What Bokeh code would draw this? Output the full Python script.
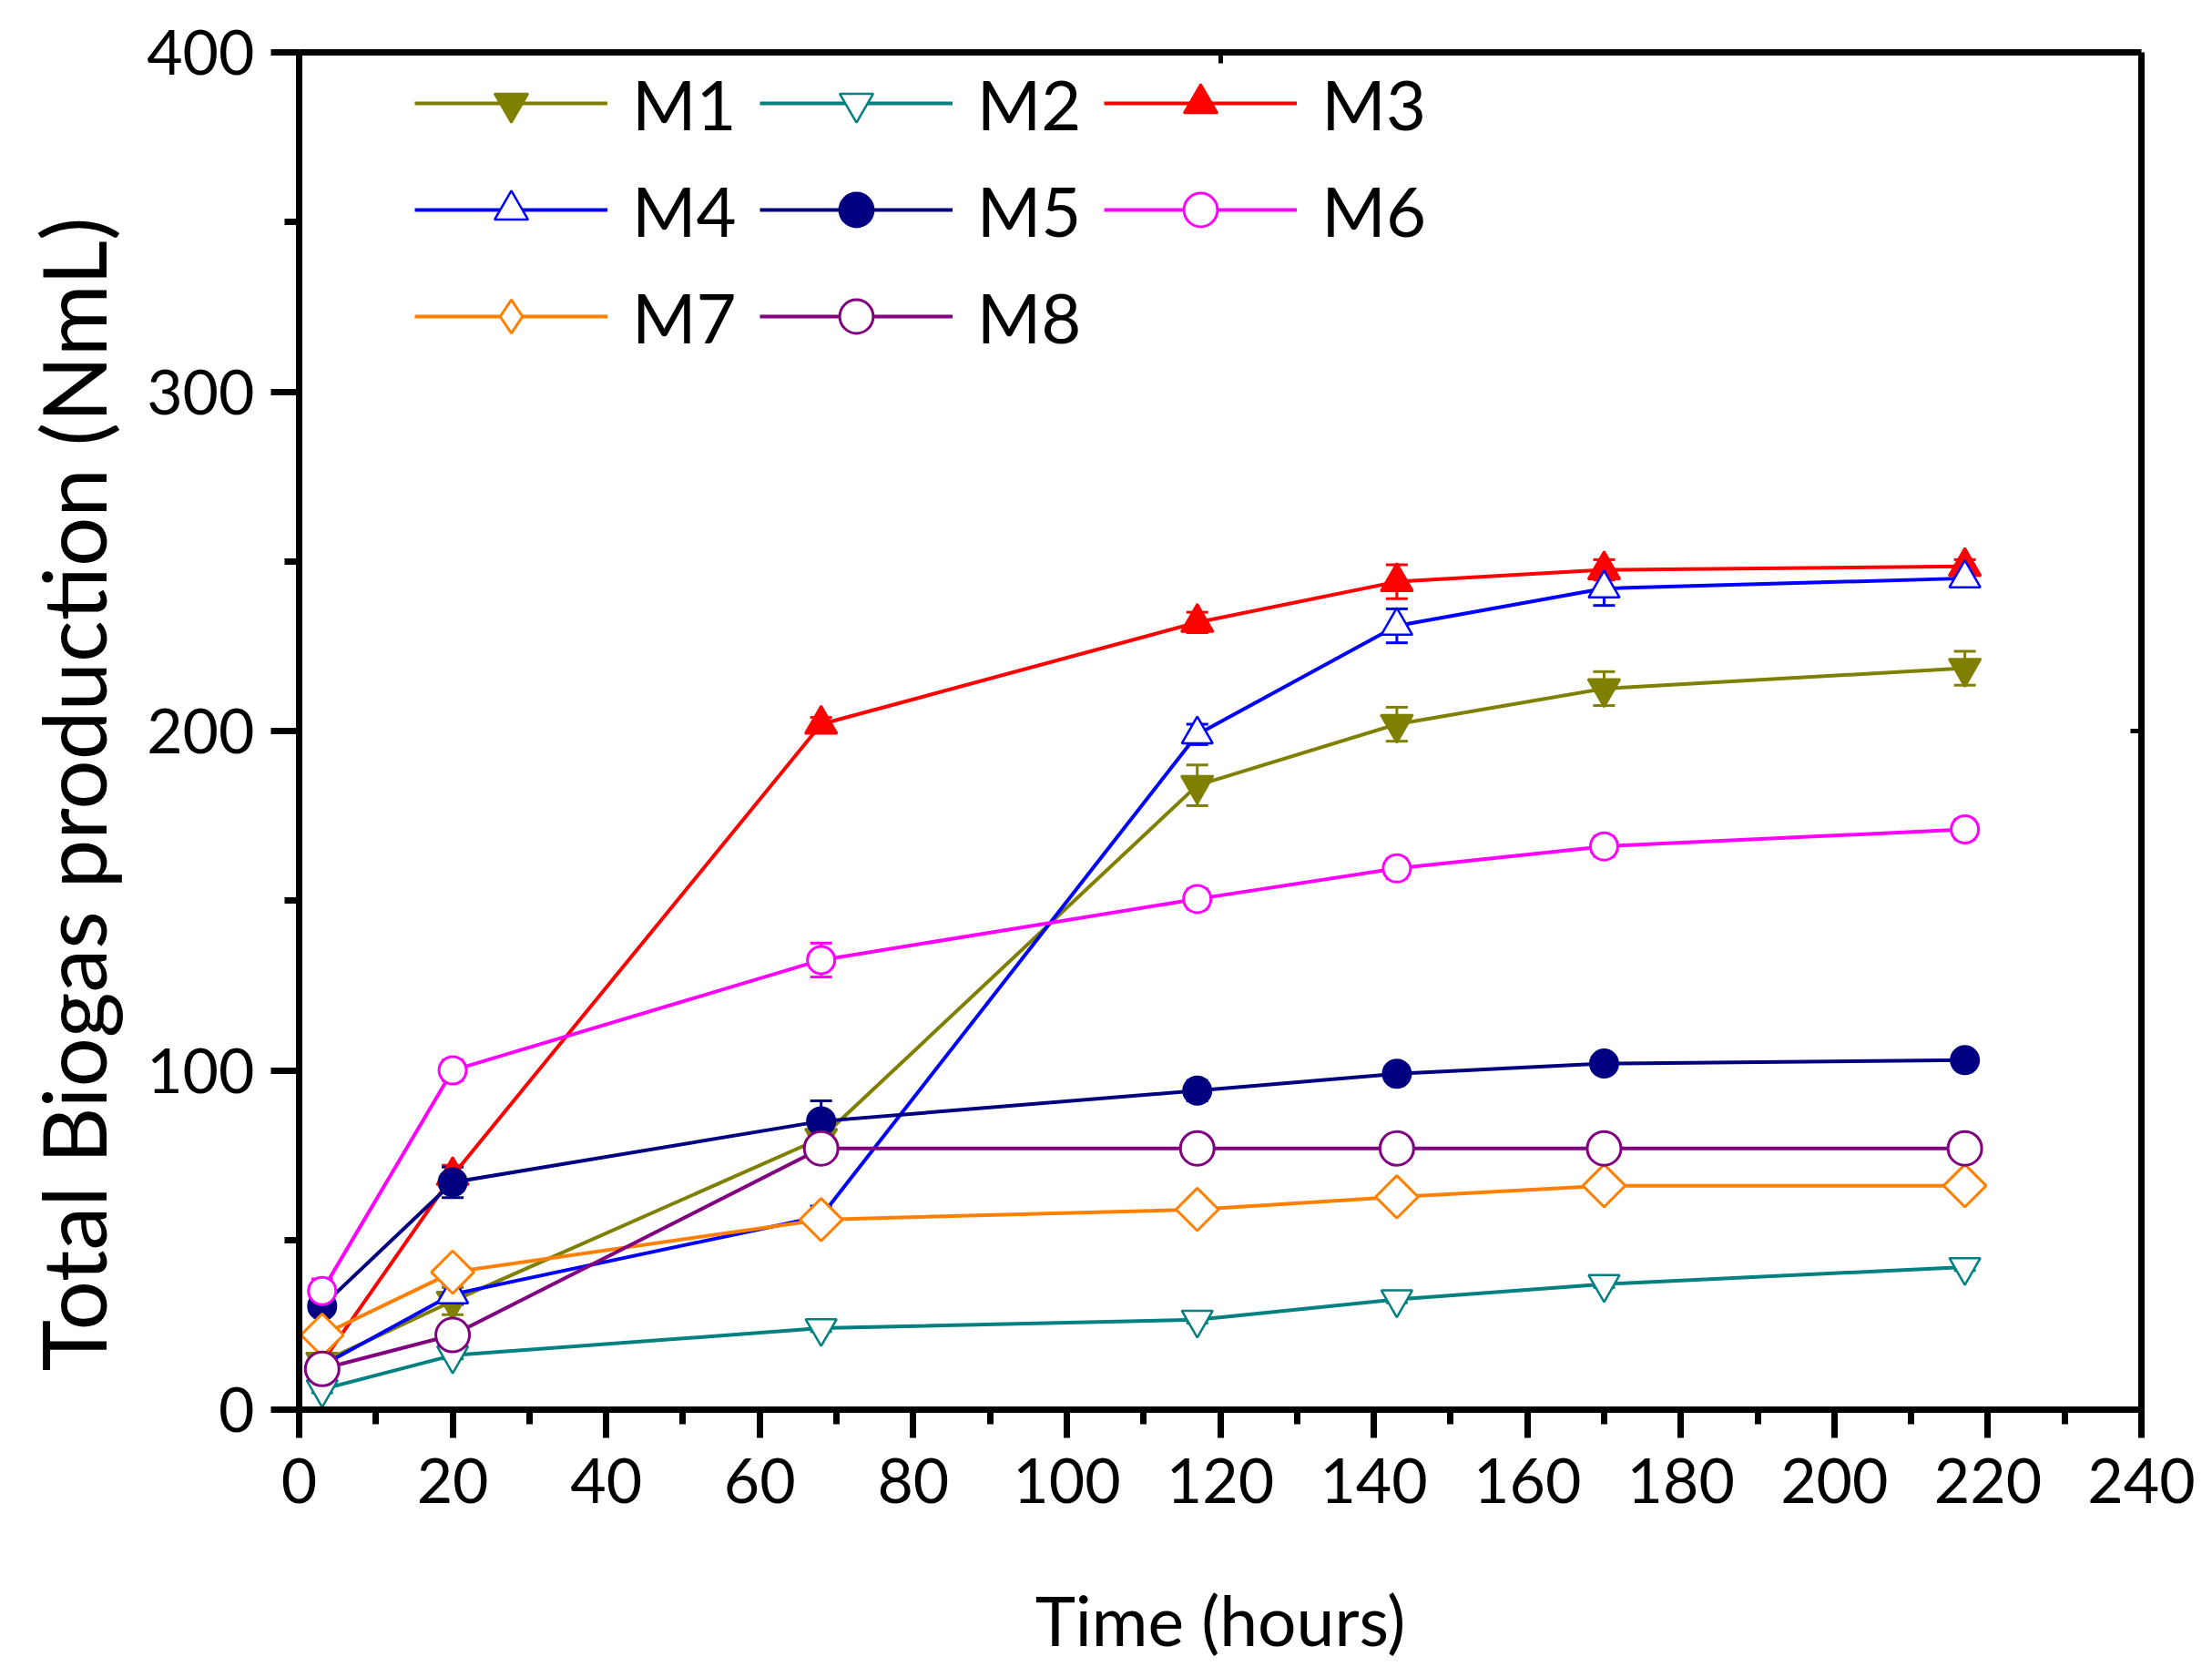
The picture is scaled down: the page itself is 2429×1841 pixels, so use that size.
import math

from bokeh.embed import file_html
from bokeh.models import (ColumnDataSource, FixedTicker, Legend, LegendItem,
                          LinearAxis, Range1d, SingleIntervalTicker, TeeHead,
                          Title, Whisker)
from bokeh.plotting import figure
from bokeh.resources import INLINE

# data
times = [3, 20, 68, 117, 143, 170, 217]

m1 = [14, 32, 80, 184, 202, 212.5, 218.5]
m2 = [6, 16, 24, 26.5, 32.5, 37, 42]
m3 = [14, 69, 202, 232, 244, 247.5, 248.5]
m4 = [13, 34, 57, 199, 231, 242, 245]
m5 = [30.5, 67, 85, 94, 99, 102, 103]
m6 = [35, 100, 132.5, 150.5, 159.5, 166, 171]
m7 = [22, 40.5, 56, 59, 62.7, 66, 66]
m8 = [12, 22, 77, 77, 77, 77, 77]

m1_err = [2, 4, 4, 6, 5, 5, 5]
m2_err = [1, 1, 1, 1, 1, 1, 1]
m3_err = [2, 3, 2, 3, 5, 3, 2]
m4_err = [2, 3, 3, 3, 5, 5, 2]
m5_err = [2, 4.5, 6, 3, 2, 2, 1.5]
m6_err = [3.5, 3, 5, 3, 3, 3, 3]
m7_err = [2, 2, 2, 3, 3, 3, 2]
m8_err = [3, 3, 2, 2, 3, 3, 2]

names = ["M1", "M2", "M3", "M4", "M5", "M6", "M7", "M8"]

FONT = "Lato"

series = [
    # values, errors, color, marker, size, filled, angle
    (m1, m1_err, "#808000", "inverted_triangle", 35, True, 0),
    (m2, m2_err, "#008080", "inverted_triangle", 34, False, 0),
    (m3, m3_err, "#FF0000", "triangle", 35, True, 0),
    (m4, m4_err, "#0000FF", "triangle", 34, False, 0),
    (m5, m5_err, "#000080", "circle", 30, True, 0),
    (m6, m6_err, "#FF00FF", "circle", 30, False, 0),
    (m7, m7_err, "#FF8000", "square", 33, False, math.pi / 4),
    (m8, m8_err, "#800080", "circle", 37, False, 0),
]

p = figure(frame_width=2023, frame_height=1490,
           x_range=Range1d(0, 240), y_range=Range1d(0, 400),
           output_backend="svg", toolbar_location=None,
           min_border_left=328, min_border_right=62,
           min_border_top=57, min_border_bottom=280)
p.grid.visible = False
p.outline_line_color = None
p.background_fill_color = "white"

legend_items = []
for name, (vals, errs, color, marker, size, filled, angle) in zip(names, series):
    src = ColumnDataSource(dict(
        x=times, y=vals,
        upper=[v + e for v, e in zip(vals, errs)],
        lower=[v - e for v, e in zip(vals, errs)],
    ))
    fill = color if filled else "white"
    lw = 2.5 if "triangle" in marker else 3
    ln = p.line("x", "y", source=src, line_color=color, line_width=4)
    leg = None
    if angle:
        # Bokeh legends do not rotate markers: a diamond under the rotated
        # square stands in for it in the legend
        leg = p.scatter("x", "y", source=src, marker="diamond", size=size * 1.35,
                        line_color=color, line_width=lw, fill_color=fill)
    sc = p.scatter("x", "y", source=src, marker=marker, size=size, angle=angle,
                   line_color=color, line_width=lw, fill_color=fill)
    wh = Whisker(base="x", upper="upper", lower="lower", source=src,
                 line_color=color, line_width=3,
                 upper_head=TeeHead(size=24, line_color=color, line_width=3),
                 lower_head=TeeHead(size=24, line_color=color, line_width=3))
    p.add_layout(wh)
    legend_items.append(LegendItem(label=name, renderers=[ln, leg or sc]))

for ax in (p.xaxis[0], p.yaxis[0]):
    ax.axis_line_width = 7
    ax.major_tick_line_width = 7
    ax.minor_tick_line_width = 7
    ax.major_tick_out = 31
    ax.major_tick_in = 0
    ax.minor_tick_out = 16
    ax.minor_tick_in = 0
    ax.major_label_text_font = FONT
    ax.major_label_text_font_size = "68px"
    ax.major_label_text_color = "black"

p.xaxis[0].ticker = SingleIntervalTicker(interval=20, num_minor_ticks=2)
p.yaxis[0].ticker = SingleIntervalTicker(interval=100, num_minor_ticks=2)
p.xaxis[0].major_label_standoff = 22
p.yaxis[0].major_label_standoff = 18
p.xaxis[0].axis_label = "Time (hours)"
p.xaxis[0].axis_label_text_font = FONT
p.xaxis[0].axis_label_text_font_size = "75px"
p.xaxis[0].axis_label_text_font_style = "normal"
p.xaxis[0].axis_label_text_color = "black"
p.xaxis[0].axis_label_standoff = 80

# top and right frame lines, each with one short inward tick
top = LinearAxis(ticker=FixedTicker(ticks=[120]), major_tick_in=12, major_tick_out=0,
                 minor_tick_in=0, minor_tick_out=0, axis_line_width=7,
                 major_tick_line_width=5, major_label_overrides={120: ""},
                 major_label_standoff=0)
right = LinearAxis(ticker=FixedTicker(ticks=[200]), major_tick_in=12, major_tick_out=0,
                   minor_tick_in=0, minor_tick_out=0, axis_line_width=7,
                   major_tick_line_width=5, major_label_overrides={200: ""},
                   major_label_standoff=0)
p.add_layout(top, "above")
p.add_layout(right, "right")

ytitle = Title(text="Total Biogas production (NmL)", align="left", offset=42,
               vertical_align="top", standoff=40, text_font=FONT,
               text_font_size="96px", text_font_style="normal",
               text_color="black")
p.add_layout(ytitle, "left")

legend = Legend(items=legend_items, orientation="horizontal", ncols=3,
                location=(127, 1154), glyph_width=212, glyph_height=92,
                label_standoff=27, spacing=25, padding=0, margin=0,
                label_text_font=FONT, label_text_font_size="76px",
                label_text_color="black",
                border_line_color=None, background_fill_alpha=0)
p.add_layout(legend)

open("out.html", "w").write(file_html(p, INLINE))
